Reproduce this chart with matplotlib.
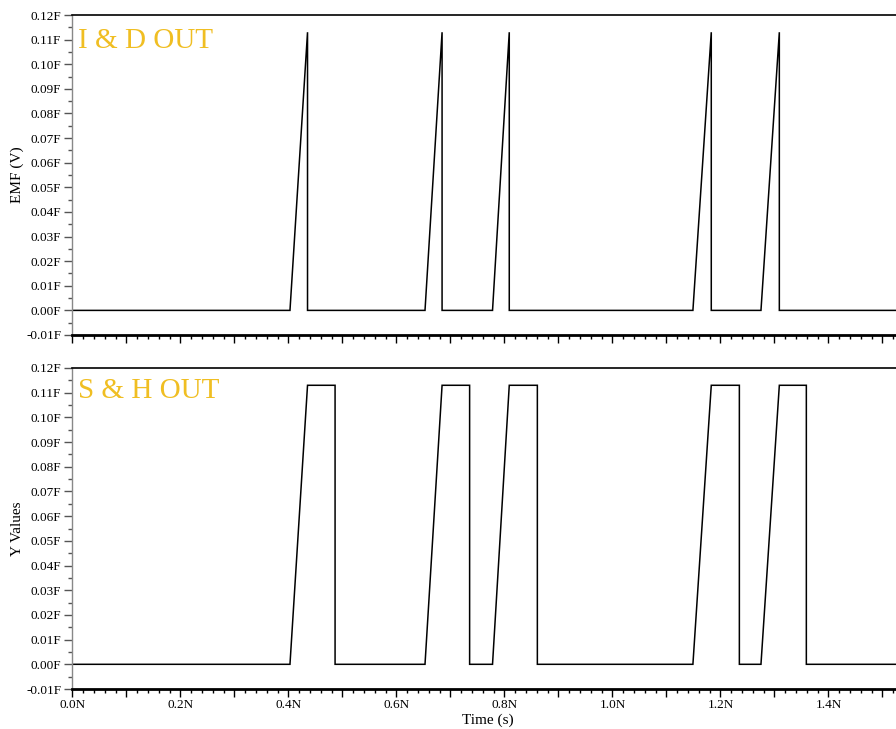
import matplotlib
matplotlib.use("Agg")
import matplotlib.pyplot as plt
from matplotlib.ticker import MultipleLocator, FuncFormatter

# Integrate-and-dump ramps: start time, peak time (ns) and peak level
ramp_start = [0.403, 0.653, 0.778, 1.149, 1.275]
ramp_peak = [0.4355, 0.6846, 0.809, 1.183, 1.309]
peak_level = 0.113
# Sample-and-hold release times (ns)
hold_end = [0.4865, 0.7356, 0.861, 1.235, 1.359]

t_end = 1.525
y_lo, y_hi = -0.01, 0.12

x_major = 0.1
x_minor = 0.02
y_major = 0.01
y_minor = 0.005

title_top = "I & D OUT"
title_bottom = "S & H OUT"
ylabel_top = "EMF (V)"
ylabel_bottom = "Y Values"
xlabel = "Time (s)"

# Build waveforms from the event lists
id_t, id_v = [0.0], [0.0]
for s, p in zip(ramp_start, ramp_peak):
    id_t += [s, p, p]
    id_v += [0.0, peak_level, 0.0]
id_t.append(t_end)
id_v.append(0.0)

sh_t, sh_v = [0.0], [0.0]
for s, p, h in zip(ramp_start, ramp_peak, hold_end):
    sh_t += [s, p, h, h]
    sh_v += [0.0, peak_level, peak_level, 0.0]
sh_t.append(t_end)
sh_v.append(0.0)

plt.rcParams["font.family"] = ["Liberation Serif", "DejaVu Serif"]

W, H = 896, 729
fig = plt.figure(figsize=(W / 100, H / 100), dpi=100)

def px_box(left, top, right, bottom):
    return [left / W, 1 - bottom / H, (right - left) / W, (bottom - top) / H]

ax1 = fig.add_axes(px_box(72.3, 15, 896, 335))
ax2 = fig.add_axes(px_box(72.3, 368, 896, 689))

gold = "#F0BE22"
tick_grey = "#555555"

def fmt_y(v, pos):
    return f"{v:.2f}F".replace("-0.00", "0.00")

def fmt_x(v, pos):
    k = int(round(v / x_major))
    if k % 2 == 0:
        return f"{v:.1f}N"
    return ""

for ax, t, v, ttl, yl, ty in [(ax1, id_t, id_v, title_top, ylabel_top, -9),
                              (ax2, sh_t, sh_v, title_bottom, ylabel_bottom, -7)]:
    ax.plot(t, v, color="black", lw=1.1, solid_joinstyle="miter")
    ax.set_xlim(0, t_end)
    ax.set_ylim(y_lo, y_hi)
    ax.yaxis.set_major_locator(MultipleLocator(y_major))
    ax.yaxis.set_minor_locator(MultipleLocator(y_minor))
    ax.xaxis.set_major_locator(MultipleLocator(x_major))
    ax.xaxis.set_minor_locator(MultipleLocator(x_minor))
    ax.yaxis.set_major_formatter(FuncFormatter(fmt_y))
    ax.xaxis.set_major_formatter(FuncFormatter(fmt_x))
    ax.tick_params(axis="y", which="major", length=6, width=1.0,
                   color=tick_grey, labelsize=9.5, pad=2)
    ax.tick_params(axis="y", which="minor", length=3, width=1.0,
                   color=tick_grey)
    ax.tick_params(axis="x", which="major", length=6, width=1.0,
                   color="black", labelsize=9.5, pad=1.5)
    ax.tick_params(axis="x", which="minor", length=3, width=1.0,
                   color="black")
    ax.spines["right"].set_visible(False)
    ax.spines["left"].set_color("#888888")
    ax.spines["left"].set_linewidth(1.0)
    ax.spines["top"].set_linewidth(1.2)
    ax.spines["bottom"].set_linewidth(2.0)
    ax.set_ylabel(yl, fontsize=11)
    ax.yaxis.set_label_coords(-(72.3 - 24) / 824, 0.5)
    ax.annotate(ttl, xy=(0, 1), xycoords="axes fraction",
                xytext=(4, ty), textcoords="offset points",
                ha="left", va="top", fontsize=21, color=gold)

ax1.tick_params(axis="x", labelbottom=False)
ax2.set_xlabel(xlabel, fontsize=11, labelpad=0)
ax2.xaxis.set_label_coords((488 - 72.3) / (896 - 72.3), -(713.5 - 689) / 321)

fig.savefig("out.png", dpi=100)
